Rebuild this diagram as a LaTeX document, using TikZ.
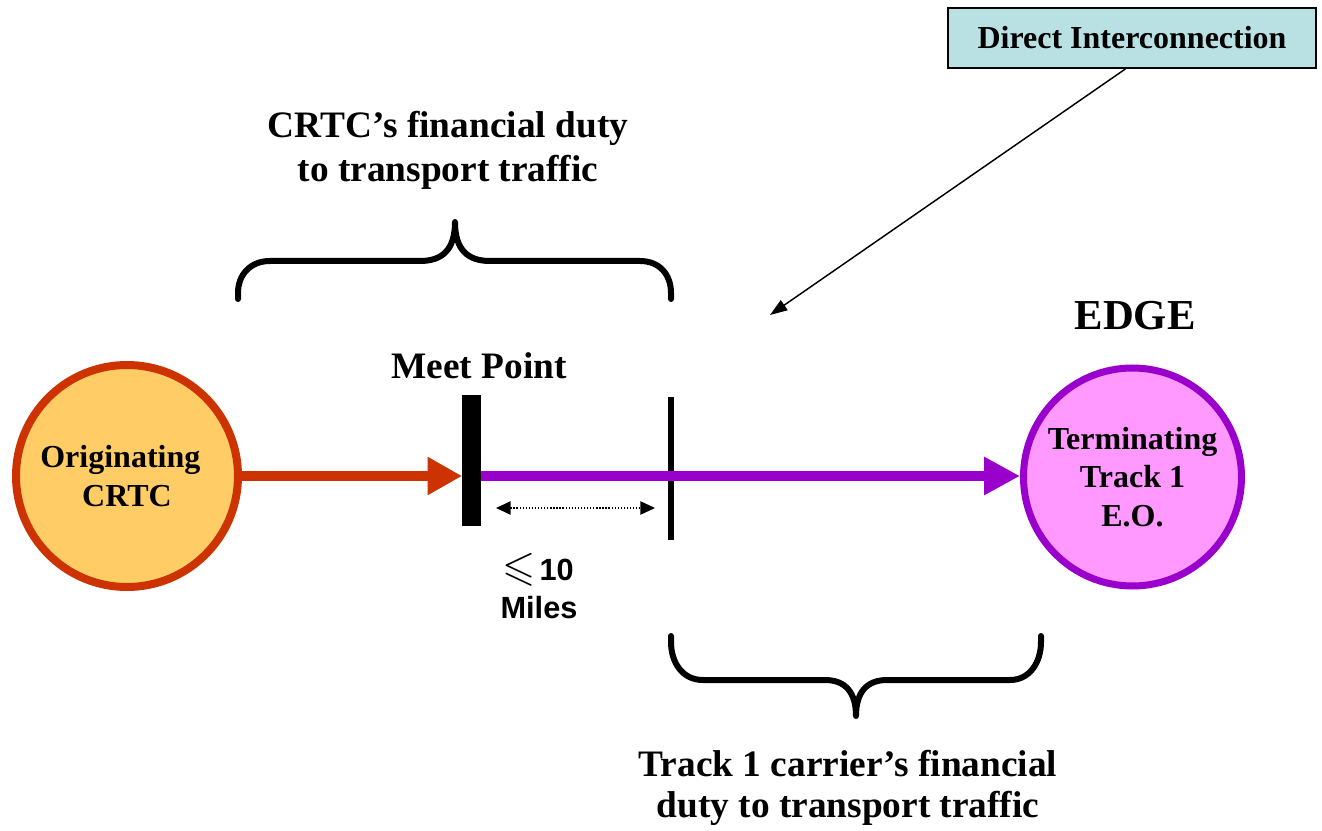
\documentclass[tikz,border=0pt]{standalone}
\usepackage{amssymb}
\usepackage{fontspec}
\setmainfont{Liberation Serif}
\newfontfamily\sansfnt{Liberation Sans}
\usetikzlibrary{arrows.meta}
\definecolor{orgborder}{RGB}{204,51,0}
\definecolor{orgfill}{RGB}{255,204,102}
\definecolor{termborder}{RGB}{153,0,204}
\definecolor{termfill}{RGB}{255,153,255}
\definecolor{boxfill}{RGB}{185,225,228}
\tikzset{
  bigtext/.style={font=\bfseries\fontsize{28}{33}\selectfont, align=center, inner sep=0pt},
  circtext/.style={font=\bfseries\fontsize{24}{28}\selectfont, align=center},
  brace/.style={line width=4.5pt, line cap=round, line join=round},
  flow/.style={line width=7.5pt},
}
\begin{document}
\begin{tikzpicture}[x=0.75pt,y=-0.75pt]
\useasboundingbox (0,0) rectangle (1322,831);

% Direct Interconnection box
\node[draw=black, line width=1.5pt, fill=boxfill, minimum width=276pt, minimum height=45pt,
      font=\bfseries\fontsize{24}{28}\selectfont, inner sep=0pt] (dibox) at (1132,38) {Direct Interconnection};
\coordinate (ditip) at (770,315);
\draw[line width=1.1pt, -{Triangle[length=13pt,width=9pt]}] ([xshift=-5pt]dibox.south) -- (ditip);

% Top brace and text
\draw[brace] (238,299) -- (238,293) .. controls (238,275) and (250,261) .. (270,261) -- (420,261)
  .. controls (442,261) and (455,250) .. (455,222)
  .. controls (455,250) and (468,261) .. (490,261) -- (640,261)
  .. controls (660,261) and (671,275) .. (671,293) -- (671,299);
\node[bigtext] (crtcduty) at (448,150) {CRTC’s financial duty\\to transport traffic};

% Labels
\node[font=\bfseries\fontsize{28}{33}\selectfont, inner sep=0pt] (meetlbl) at (479,366) {Meet Point};
\node[font=\bfseries\fontsize{32}{36}\selectfont, inner sep=0pt] (edge) at (1135,316) {EDGE};

% Circles
\node[circle, draw=orgborder, fill=orgfill, line width=6pt, minimum size=166.5pt, circtext] (orig) at (127,476) {\raisebox{0pt}[\height][\depth]{}Originating\hspace*{10pt}\\[1pt]CRTC};
\node[circle, draw=termborder, fill=termfill, line width=5.25pt, minimum size=163.5pt, circtext,
      font=\bfseries\fontsize{24}{29}\selectfont] (term) at (1132.5,477) {Terminating\\Track 1\\E.O.};

% Meet point bar and edge line
\node[fill=black, minimum width=14pt, minimum height=98pt, inner sep=0pt, outer sep=0pt] (meet) at (471.5,460.5) {};
\node[fill=black, minimum width=4pt, minimum height=107pt, inner sep=0pt, outer sep=0pt] (edgebar) at (671,468.5) {};

% Flows
\draw[flow, draw=orgborder, -{Triangle[length=26pt,width=27pt]}] (orig.east |- 0,476) -- (meet.west |- 0,476);
\draw[flow, draw=termborder, -{Triangle[length=27pt,width=27pt]}] (meet.east |- 0,476) -- (term.west |- 0,476);

% distance arrow
\coordinate (d1) at (496,508);
\coordinate (d2) at (655,508);
\draw[line width=1.1pt, dash pattern=on 1pt off 1.3pt, {Triangle[length=11pt,width=10pt]}-{Triangle[length=11pt,width=10pt]}] (d1) -- (d2);
\node[inner sep=0pt, anchor=base] (leq) at (538,580) {\fontsize{32}{36}\selectfont$\leqslant$\hspace{3pt}{\sansfnt\bfseries\fontsize{23}{27}\selectfont 10}};
\node[inner sep=0pt, anchor=base, font=\sansfnt\bfseries\fontsize{23}{27}\selectfont] (miles) at (539,618) {Miles};

% Bottom brace and text
\draw[brace] (671,636) -- (671,642) .. controls (671,662) and (682,680) .. (703,680) -- (825,680)
  .. controls (845,680) and (856,692) .. (856,716)
  .. controls (856,692) and (867,680) .. (887,680) -- (1010,680)
  .. controls (1030,680) and (1041,662) .. (1041,642) -- (1041,636);
\node[bigtext, font=\bfseries\fontsize{28}{31}\selectfont] (trackduty) at (848,788) {Track 1 carrier’s financial\\duty to transport traffic};
\end{tikzpicture}
\end{document}
